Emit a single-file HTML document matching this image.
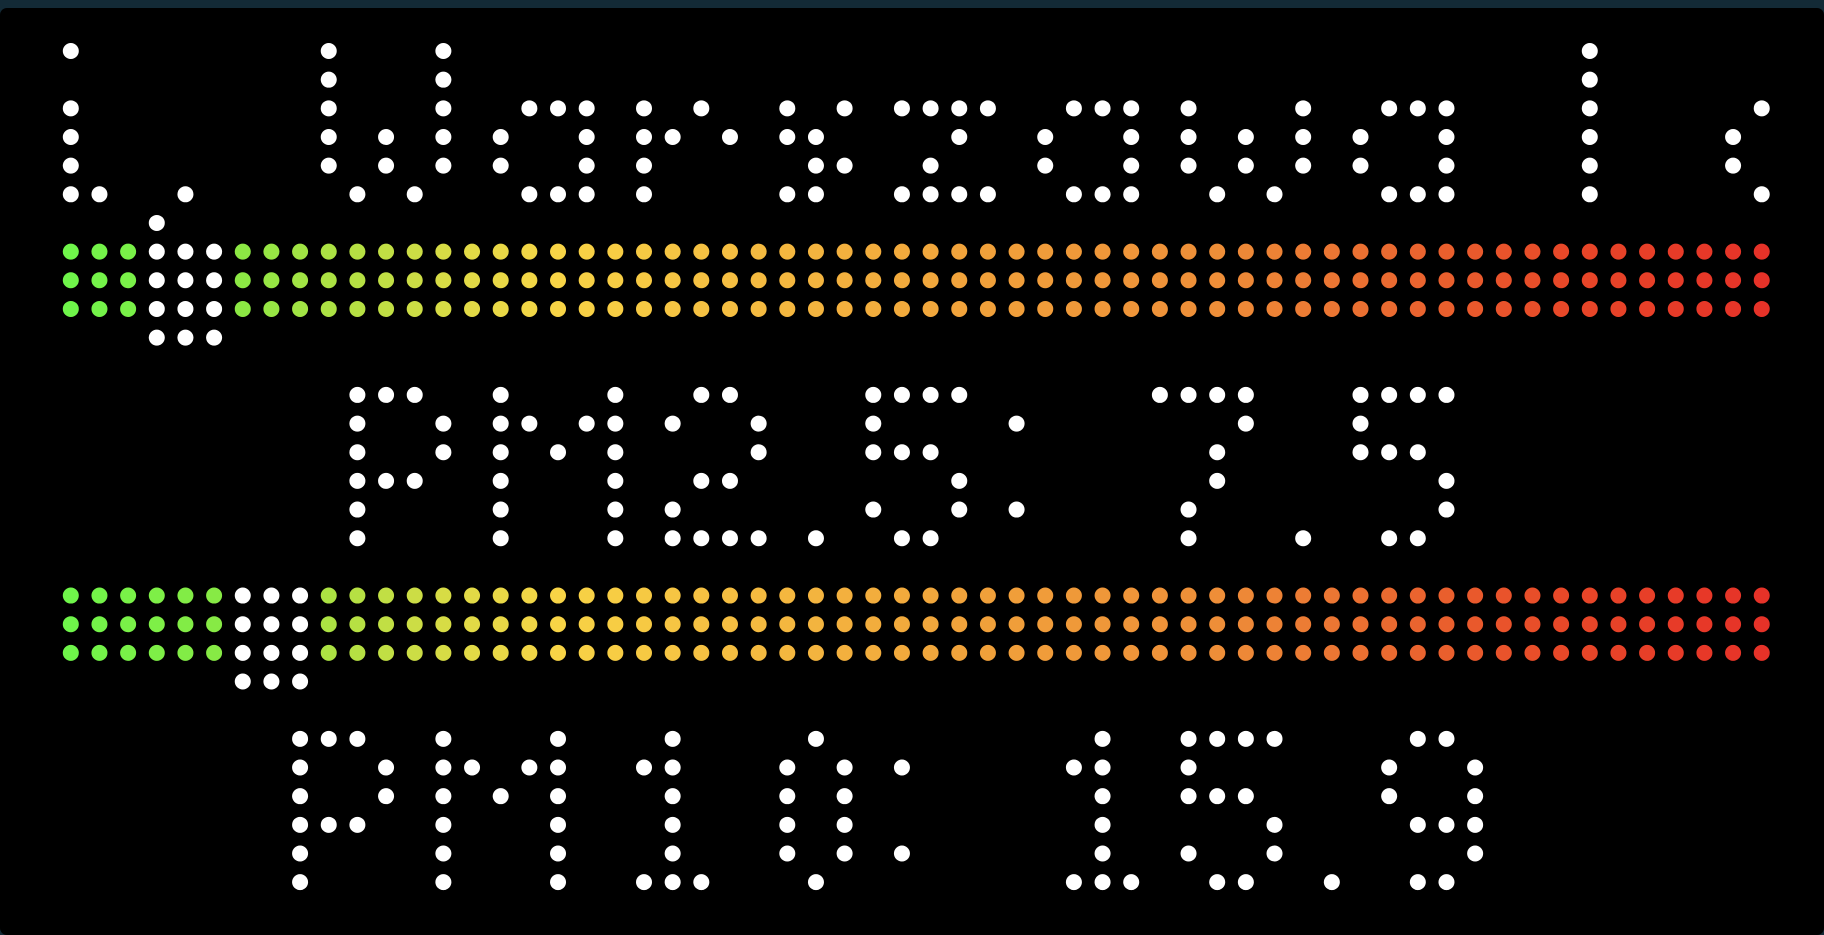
<!DOCTYPE html>
<html><head><meta charset="utf-8">
<style>
html,body{margin:0;padding:0;width:1824px;height:935px;background:#132a36;overflow:hidden;font-family:"Liberation Sans",sans-serif}
#panel{position:absolute;left:0;top:8px;width:1824px;height:927px;background:#000;border-radius:7px}
#svg{position:absolute;left:0;top:0}
.sr{position:absolute;left:-9999px;top:0}
</style></head>
<body>
<div id="panel"></div>
<div class="sr">Warszawa</div>
<div class="sr">PM2.5: 7.5</div>
<div class="sr">PM10: 15.9</div>
<svg id="svg" width="1824" height="935"></svg>
<script>
const pollutants = ["PM2.5", "PM10"];
const values = [7.5, 15.9];
const barRows = [7, 19];
const textRows = {
0:[0,9,13,53],
1:[9,13,53],
2:[0,9,13,16,17,18,20,22,25,27,29,30,31,32,35,36,37,39,43,46,47,48,53,59],
3:[0,9,11,13,15,18,20,21,23,25,26,31,34,37,39,41,43,45,48,53,58],
4:[0,9,11,13,15,18,20,26,27,30,34,37,39,41,43,45,48,53,58],
5:[0,1,4,10,12,16,17,18,20,25,26,29,30,31,32,35,36,37,40,42,46,47,48,53,59],
6:[3],
12:[10,11,12,15,19,22,23,28,29,30,31,38,39,40,41,45,46,47,48],
13:[10,13,15,16,18,19,21,24,28,33,41,45],
14:[10,13,15,17,19,24,28,29,30,40,45,46,47],
15:[10,11,12,15,19,22,23,31,40,48],
16:[10,15,19,21,28,31,33,39,48],
17:[10,15,19,21,22,23,24,26,29,30,39,43,46,47],
24:[8,9,10,13,17,21,26,36,39,40,41,42,47,48],
25:[8,11,13,14,16,17,20,21,25,27,29,35,36,39,46,49],
26:[8,11,13,15,17,21,25,27,36,39,40,41,46,49],
27:[8,9,10,13,17,21,25,27,36,42,47,48,49],
28:[8,13,17,21,25,27,29,36,39,42,49],
29:[8,13,17,20,21,22,26,35,36,37,40,41,44,47,48]
};
const NS="http://www.w3.org/2000/svg";
const svg=document.getElementById('svg');
const X0=70.8, Y0=51, P=28.66, R=8, COLS=60;
const cx=c=>X0+c*P, cy=r=>Y0+r*P;
const valueToCol=v=>Math.round(v*0.4);
const stops=[[0,[111,245,74]],[6,[140,232,68]],[10,[182,224,67]],[14,[226,218,70]],[17,[248,212,70]],[24,[244,186,64]],[32,[240,160,58]],[40,[238,142,56]],[46,[234,106,48]],[52,[232,72,40]],[59,[230,50,40]]];
function colColor(c){
 for(let i=0;i<stops.length-1;i++){const a=stops[i],b=stops[i+1];
  if(c>=a[0]&&c<=b[0]){const t=(c-a[0])/(b[0]-a[0]);
   return 'rgb('+a[1].map((v,k)=>Math.round(v+(b[1][k]-v)*t)).join(',')+')';}}
 return 'rgb(230,50,40)';
}
function dot(c,r,fill,name){
 const e=document.createElementNS(NS,'circle');
 e.setAttribute('cx',cx(c));e.setAttribute('cy',cy(r));e.setAttribute('r',R);e.setAttribute('fill',fill);
 
 
 svg.appendChild(e);
}
for(const r in textRows){for(const c of textRows[r]) dot(c,+r,'#fff','text-dot');}
barRows.forEach((br,i)=>{
 const m=valueToCol(values[i]);
 for(let r=br;r<br+3;r++){
  for(let c=0;c<COLS;c++){
   const isMark=c>=m&&c<m+3;
   dot(c,r,isMark?'#fff':colColor(c),isMark?'bar-marker-dot':'bar-dot');
  }
 }
 for(let c=m;c<m+3;c++) dot(c,br+3,'#fff','bar-marker-dot');
});
</script>
</body></html>
